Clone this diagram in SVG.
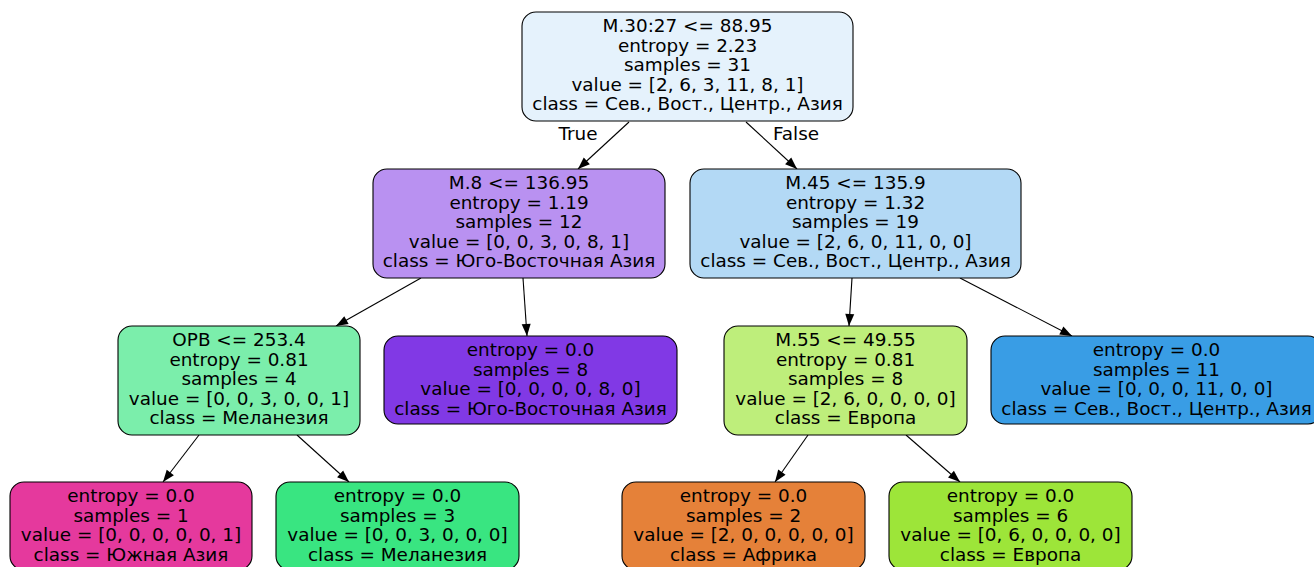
<svg xmlns="http://www.w3.org/2000/svg" width="1314" height="567" viewBox="0 0 1314 567">
<style>
.n rect{stroke:#000;stroke-width:1.1}
text{font-family:"DejaVu Sans","Liberation Sans",sans-serif;font-size:18.4px;fill:#000;text-anchor:middle}
.e line{stroke:#000;stroke-width:1.1}
</style>
<defs>
<marker id="arr" markerWidth="13" markerHeight="10" refX="12.5" refY="5" orient="auto" markerUnits="userSpaceOnUse">
<path d="M0.5,0.5 L12.5,5 L0.5,9.5 z" fill="#000"/>
</marker>
</defs>
<rect width="1314" height="567" fill="#fff"/>
<g id="connectors" class="e">
<line x1="629" y1="122" x2="578" y2="169" marker-end="url(#arr)"/>
<line x1="746" y1="122" x2="797" y2="169" marker-end="url(#arr)"/>
<line x1="421" y1="278" x2="336" y2="326" marker-end="url(#arr)"/>
<line x1="523" y1="278" x2="527" y2="336" marker-end="url(#arr)"/>
<line x1="852" y1="278" x2="849" y2="326" marker-end="url(#arr)"/>
<line x1="960" y1="278" x2="1072" y2="336" marker-end="url(#arr)"/>
<line x1="199" y1="435" x2="163" y2="482" marker-end="url(#arr)"/>
<line x1="297" y1="435" x2="349" y2="482" marker-end="url(#arr)"/>
<line x1="808" y1="435" x2="775" y2="482" marker-end="url(#arr)"/>
<line x1="906" y1="435" x2="960" y2="482" marker-end="url(#arr)"/>
<text x="578" y="140">True</text>
<text x="796" y="140">False</text>
</g>
<g id="node0" class="n">
<rect x="522" y="12" width="331" height="109" rx="14" fill="#e5f2fc"/>
<text x="687.5" y="32">M.30:27 &lt;= 88.95</text>
<text x="687.5" y="51.5">entropy = 2.23</text>
<text x="687.5" y="71">samples = 31</text>
<text x="687.5" y="90.5">value = [2, 6, 3, 11, 8, 1]</text>
<text x="687.5" y="110">class = Сев., Вост., Центр., Азия</text>
</g>
<g id="node1" class="n">
<rect x="373" y="169" width="292" height="109" rx="14" fill="#b991f1"/>
<text x="519" y="189">M.8 &lt;= 136.95</text>
<text x="519" y="208.5">entropy = 1.19</text>
<text x="519" y="228">samples = 12</text>
<text x="519" y="247.5">value = [0, 0, 3, 0, 8, 1]</text>
<text x="519" y="267">class = Юго-Восточная Азия</text>
</g>
<g id="node2" class="n">
<rect x="690" y="169" width="331" height="109" rx="14" fill="#b3d9f5"/>
<text x="855.5" y="189">M.45 &lt;= 135.9</text>
<text x="855.5" y="208.5">entropy = 1.32</text>
<text x="855.5" y="228">samples = 19</text>
<text x="855.5" y="247.5">value = [2, 6, 0, 11, 0, 0]</text>
<text x="855.5" y="267">class = Сев., Вост., Центр., Азия</text>
</g>
<g id="node3" class="n">
<rect x="118" y="326" width="242" height="109" rx="14" fill="#7beeab"/>
<text x="239" y="346">OPB &lt;= 253.4</text>
<text x="239" y="365.5">entropy = 0.81</text>
<text x="239" y="385">samples = 4</text>
<text x="239" y="404.5">value = [0, 0, 3, 0, 0, 1]</text>
<text x="239" y="424">class = Меланезия</text>
</g>
<g id="node4" class="n">
<rect x="384" y="336" width="293" height="88" rx="14" fill="#8139e5"/>
<text x="530.5" y="356">entropy = 0.0</text>
<text x="530.5" y="375.5">samples = 8</text>
<text x="530.5" y="395">value = [0, 0, 0, 0, 8, 0]</text>
<text x="530.5" y="414.5">class = Юго-Восточная Азия</text>
</g>
<g id="node5" class="n">
<rect x="724" y="326" width="243" height="109" rx="14" fill="#beee7b"/>
<text x="845.5" y="346">M.55 &lt;= 49.55</text>
<text x="845.5" y="365.5">entropy = 0.81</text>
<text x="845.5" y="385">samples = 8</text>
<text x="845.5" y="404.5">value = [2, 6, 0, 0, 0, 0]</text>
<text x="845.5" y="424">class = Европа</text>
</g>
<g id="node6" class="n">
<rect x="991" y="336" width="331" height="88" rx="14" fill="#399de5"/>
<text x="1156.5" y="356">entropy = 0.0</text>
<text x="1156.5" y="375.5">samples = 11</text>
<text x="1156.5" y="395">value = [0, 0, 0, 11, 0, 0]</text>
<text x="1156.5" y="414.5">class = Сев., Вост., Центр., Азия</text>
</g>
<g id="node7" class="n">
<rect x="10" y="482" width="242" height="88" rx="14" fill="#e5399d"/>
<text x="131" y="502">entropy = 0.0</text>
<text x="131" y="521.5">samples = 1</text>
<text x="131" y="541">value = [0, 0, 0, 0, 0, 1]</text>
<text x="131" y="560.5">class = Южная Азия</text>
</g>
<g id="node8" class="n">
<rect x="276" y="482" width="243" height="88" rx="14" fill="#39e581"/>
<text x="397.5" y="502">entropy = 0.0</text>
<text x="397.5" y="521.5">samples = 3</text>
<text x="397.5" y="541">value = [0, 0, 3, 0, 0, 0]</text>
<text x="397.5" y="560.5">class = Меланезия</text>
</g>
<g id="node9" class="n">
<rect x="622" y="482" width="243" height="88" rx="14" fill="#e58139"/>
<text x="743.5" y="502">entropy = 0.0</text>
<text x="743.5" y="521.5">samples = 2</text>
<text x="743.5" y="541">value = [2, 0, 0, 0, 0, 0]</text>
<text x="743.5" y="560.5">class = Африка</text>
</g>
<g id="node10" class="n">
<rect x="889" y="482" width="243" height="88" rx="14" fill="#9de539"/>
<text x="1010.5" y="502">entropy = 0.0</text>
<text x="1010.5" y="521.5">samples = 6</text>
<text x="1010.5" y="541">value = [0, 6, 0, 0, 0, 0]</text>
<text x="1010.5" y="560.5">class = Европа</text>
</g>
</svg>
